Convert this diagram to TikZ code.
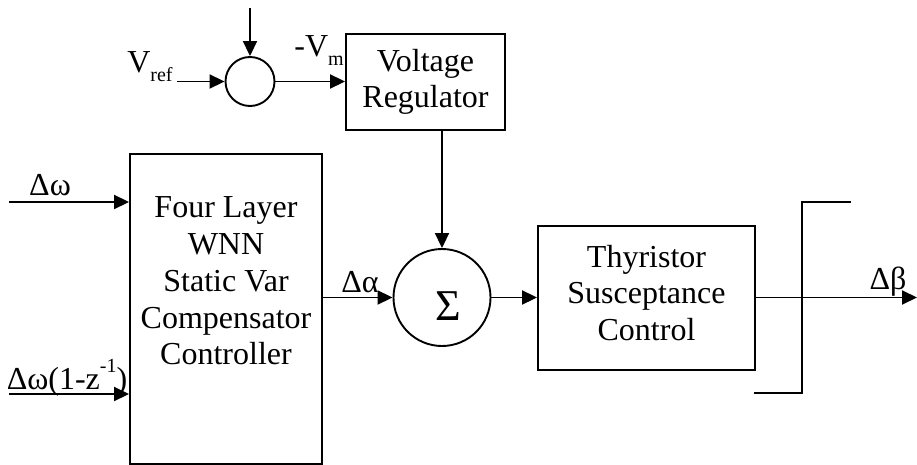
\documentclass[tikz,border=0pt]{standalone}
\usepackage{fontspec}
\setmainfont{Liberation Serif}
\usetikzlibrary{arrows.meta}
\newcommand{\lowsub}[1]{\raisebox{-0.28em}{\fontsize{20}{20}\selectfont #1}}
\newcommand{\highsup}[1]{\raisebox{0.55em}{\fontsize{20}{20}\selectfont #1}}
\begin{document}
\begin{tikzpicture}[x=1pt,y=-1pt,
  line width=1.9pt,
  every node/.style={font=\fontsize{32}{36.7}\selectfont, inner sep=0pt},
  blk/.style={draw, rectangle, line width=1.9pt},
  sumc/.style={draw, circle, line width=1.9pt},
  arr/.style={-{Triangle[length=15pt,width=14pt]}}]
\useasboundingbox (0,0) rectangle (917,465);
% blocks
\node[blk, minimum width=159pt, minimum height=96pt] (vr) at (425.5,82) {};
\node[align=center] (vrtext) at (425.5,82) {Voltage\\Regulator};
\node[sumc, minimum size=49pt] (s1) at (250,81.5) {};
\node[sumc, minimum size=97pt] (s2) at (442,297.5) {};
\node[font=\fontsize{44}{44}\selectfont] (sig) at (448,306) {Σ};
\node[blk, minimum width=192pt, minimum height=310pt] (wnn) at (226,309) {};
\node[align=center] (wnntext) at (226,281) {Four Layer\\WNN\\Static Var\\Compensator\\Controller};
\node[blk, minimum width=217pt, minimum height=144pt] (thy) at (646.5,298) {};
\node[align=center] (thytext) at (646.5,293) {Thyristor\\Susceptance\\Control};
% free ends
\coordinate (top) at (250,8);
\coordinate (vrefstart) at (177,81.5);
\coordinate (dw1) at (9,202);
\coordinate (dw2) at (9,394);
\coordinate (out) at (917,297.5);
\coordinate (bt1) at (851,202);
\coordinate (bt2) at (802,202);
\coordinate (bb1) at (802,393);
\coordinate (bb2) at (754,393);
% labels
\node (vref) at (150,67) {V\lowsub{ref}};
\node (vm) at (319,51) {-V\lowsub{m}};
\node (lw1) at (50,185) {Δω};
\node (lw2) at (67,378) {Δω(1-z\highsup{-1})};
\node (la) at (360,282) {Δα};
\node (lb) at (888,282) {Δβ};
% connectors
\draw[arr] (top) -- (s1.north);
\draw[arr] (vrefstart) -- (s1.west);
\draw[arr] (s1.east) -- (vr.west |- s1.east);
\draw[arr] (vr.south -| s2.north) -- (s2.north);
\draw[arr] (dw1) -- (wnn.west |- dw1);
\draw[arr] (dw2) -- (wnn.west |- dw2);
\draw[arr] (wnn.east |- s2.west) -- (s2.west);
\draw[arr] (s2.east) -- (thy.west |- s2.east);
\draw[arr] (thy.east |- out) -- (out);
\draw (bt1) -- (bt2) -- (bb1) -- (bb2);
\end{tikzpicture}
\end{document}
